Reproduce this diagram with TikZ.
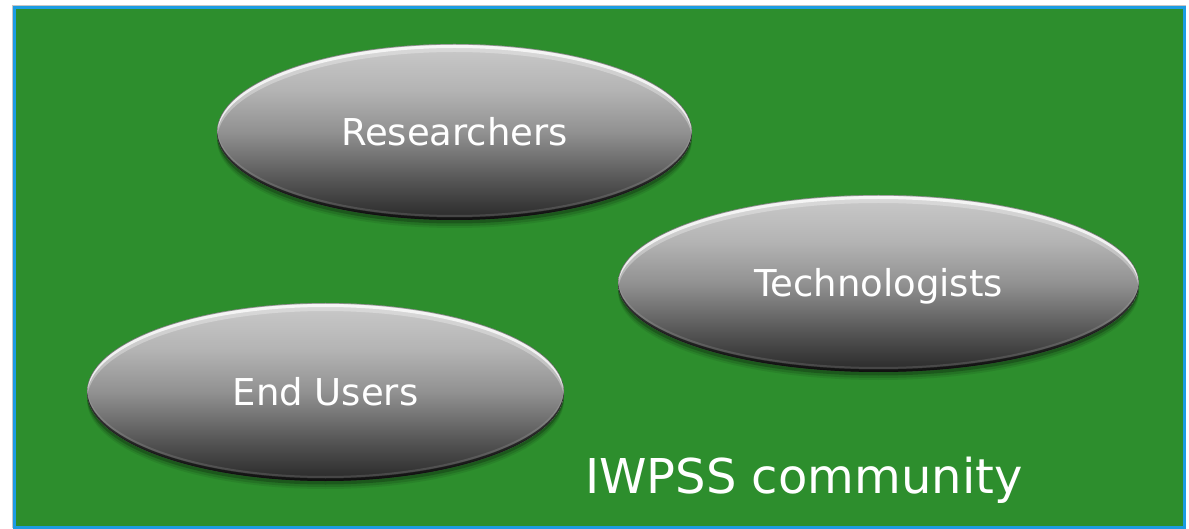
\documentclass[tikz,border=0pt]{standalone}
\usepackage{fontspec}
\setmainfont{DejaVu Sans}
\usetikzlibrary{shapes.geometric}

\definecolor{field}{RGB}{45,142,45}
\definecolor{rim}{RGB}{28,156,226}
\definecolor{pebbleTop}{RGB}{202,202,202}
\definecolor{pebbleUp}{RGB}{180,180,180}
\definecolor{pebbleMid}{RGB}{145,145,145}
\definecolor{pebbleLow}{RGB}{84,84,84}
\definecolor{pebbleBot}{RGB}{40,40,40}

% grey pebble gradient: dark at the bottom, light at the top
\pgfdeclareverticalshading{pebble}{100bp}{%
  color(0bp)=(pebbleBot); color(25bp)=(pebbleBot); color(36bp)=(pebbleLow);
  color(50bp)=(pebbleMid); color(62bp)=(pebbleUp); color(75bp)=(pebbleTop);
  color(100bp)=(pebbleTop)}

\tikzset{
  pebblenode/.style 2 args={
    ellipse, inner sep=0pt,
    minimum width=2*#1, minimum height=2*#2,
    text=white, font=\fontsize{37}{44}\selectfont,
    text height=27pt, text depth=0pt,
    preaction={fill=black, fill opacity=.08, transform canvas={yshift=-8pt}},
    preaction={fill=black, fill opacity=.12, transform canvas={yshift=-6pt}},
    preaction={fill=black, fill opacity=.22, transform canvas={yshift=-3.5pt}},
    shading=pebble,
    path picture={
      % bevel: bright crescent on top, dark crescent at the bottom
      \fill[white, fill opacity=.30, even odd rule]
        (path picture bounding box.center) ellipse [x radius=#1pt, y radius=#2pt]
        ([yshift=-8pt]path picture bounding box.center) ellipse [x radius=#1pt, y radius=#2pt];
      \fill[white, fill opacity=.75, even odd rule]
        ([yshift=-1pt]path picture bounding box.center) ellipse [x radius=#1pt, y radius=#2pt]
        ([yshift=-4pt]path picture bounding box.center) ellipse [x radius=#1pt, y radius=#2pt];
      \fill[white, fill opacity=.12, even odd rule]
        ([yshift=5pt]path picture bounding box.center) ellipse [x radius=#1pt, y radius=#2pt]
        ([yshift=3pt]path picture bounding box.center) ellipse [x radius=#1pt, y radius=#2pt];
      \fill[black, fill opacity=.55, even odd rule]
        (path picture bounding box.center) ellipse [x radius=#1pt, y radius=#2pt]
        ([yshift=2.5pt]path picture bounding box.center) ellipse [x radius=#1pt, y radius=#2pt];
      \draw[black, draw opacity=.3, line width=1.2pt]
        (path picture bounding box.center) ellipse [x radius=#1pt, y radius=#2pt];
    }
  },
  caption/.style={text=white, font=\fontsize{48}{56}\selectfont, inner sep=0pt}
}

\begin{document}
\begin{tikzpicture}[x=1pt, y=-1pt]
  \useasboundingbox (0,0) rectangle (1189,529);

  % framed green field
  \draw[gray!45, line width=1pt] (12.5,528) -- (12.5,5.5) -- (1186,5.5);
  \draw[rim, line width=2.6pt, fill=field] (14.3,7.3) rectangle (1184.6,527.6);

  % the three groups
  \node[pebblenode={237.5}{88}] (researchers)   at (454.5,132) {Researchers};
  \node[pebblenode={260.5}{88.5}] (technologists) at (878.5,283.5) {Technologists};
  \node[pebblenode={238.5}{89}] (endusers)      at (325.5,392) {End Users};

  \node[caption, anchor=base west] (community) at (585,493) {IWPSS community};
\end{tikzpicture}
\end{document}
